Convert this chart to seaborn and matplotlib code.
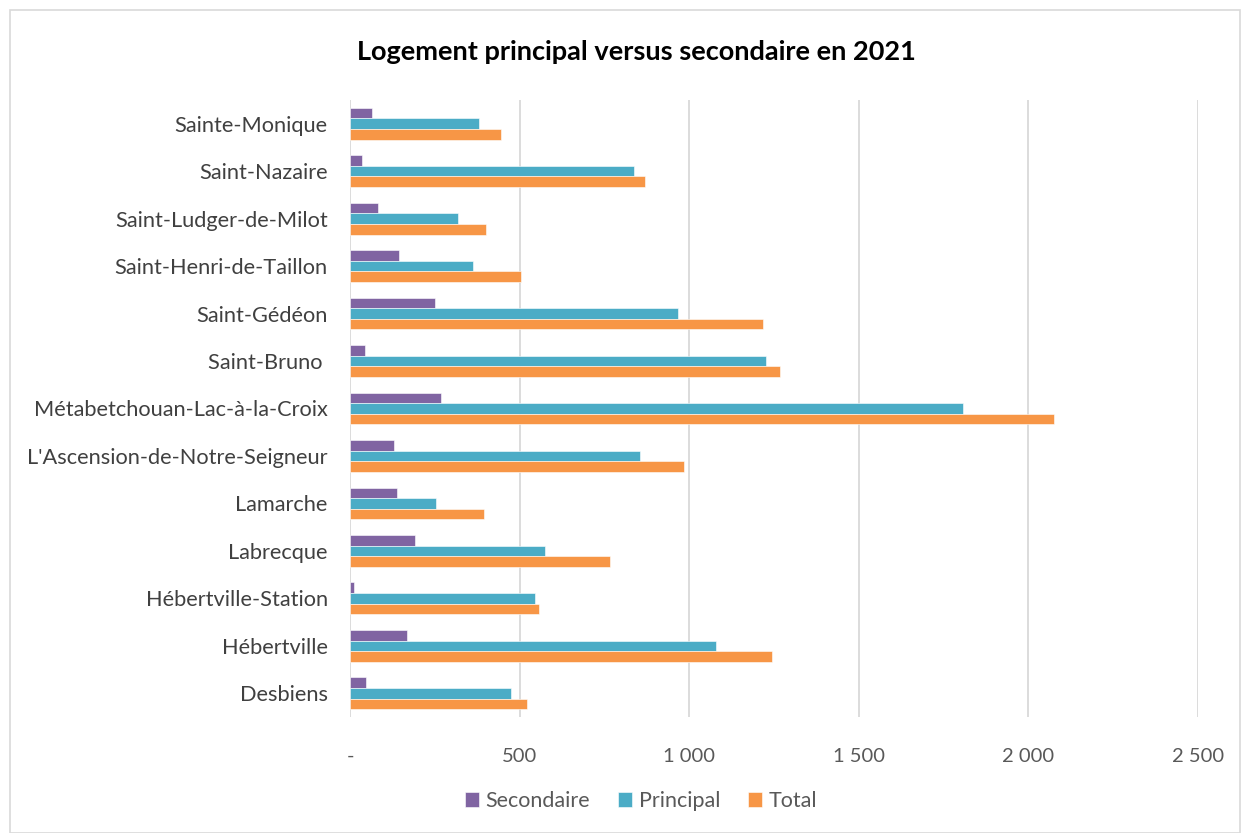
import matplotlib
matplotlib.use("Agg")
import matplotlib.pyplot as plt
import matplotlib.ticker as mticker
from matplotlib.patches import Rectangle
import seaborn as sns
import pandas as pd

categories = ["Sainte-Monique", "Saint-Nazaire", "Saint-Ludger-de-Milot",
              "Saint-Henri-de-Taillon", "Saint-Gédéon", "Saint-Bruno ",
              "Métabetchouan-Lac-à-la-Croix", "L'Ascension-de-Notre-Seigneur",
              "Lamarche", "Labrecque", "Hébertville-Station", "Hébertville",
              "Desbiens"]
secondaire = [65, 36, 83, 143, 250, 43, 267, 129, 140, 191, 11, 167, 46]
principal = [380, 836, 318, 362, 966, 1225, 1806, 855, 254, 575, 546, 1078, 475]
total = [444, 869, 402, 505, 1218, 1268, 2074, 984, 395, 766, 558, 1245, 523]
series = ["Secondaire", "Principal", "Total"]
colors = ["#8064A2", "#4BACC6", "#F79646"]
x_ticks = [0, 500, 1000, 1500, 2000, 2500]
title = "Logement principal versus secondaire en 2021"

rows = []
for name, vals in zip(series, [secondaire, principal, total]):
    for c, v in zip(categories, vals):
        rows.append({"Commune": c, "Série": name, "Valeur": v})
df = pd.DataFrame(rows)

sns.set_style("white")
plt.rcParams["font.family"] = ["Lato", "DejaVu Sans"]

fig = plt.figure(figsize=(12.47, 8.33), dpi=100)
ax = fig.add_axes([350 / 1247, 1 - 717 / 833, (1198 - 350) / 1247, (717 - 100) / 833])

sns.barplot(data=df, y="Commune", x="Valeur", hue="Série", order=categories,
            hue_order=series, palette=colors, orient="h", width=0.67,
            ax=ax, saturation=1, legend=True, edgecolor="#FFFFFF", linewidth=0.4)

ax.set_xlim(0, 2500)
ax.set_xticks(x_ticks)
ax.xaxis.set_major_formatter(mticker.FuncFormatter(
    lambda v, p: "-" if v == 0 else f"{int(v):,}".replace(",", " ")))
ax.grid(axis="x", color="#D9D9D9", linewidth=1.3)
ax.set_axisbelow(True)
for s in ax.spines.values():
    s.set_visible(False)
ax.tick_params(axis="x", length=0, pad=22, labelsize=14.5, colors="#595959")
ax.tick_params(axis="y", length=0, pad=16, labelsize=15.7, colors="#404040")
ax.set_xlabel("")
ax.set_ylabel("")

h, l = ax.get_legend_handles_labels()
ax.legend_.remove()
fig.legend(h, l, loc="center", bbox_to_anchor=(641 / 1247, 1 - 801 / 833), ncol=3,
           frameon=False, fontsize=15.5, handlelength=0.65, handleheight=0.65,
           handletextpad=0.3, columnspacing=1.3, labelcolor="#595959")

fig.text(636 / 1247, 1 - 52 / 833, title, ha="center", va="center",
         fontsize=19.5, fontweight="bold", color="#000000")

fig.patches.append(Rectangle((10 / 1247, 0), (1240 - 10) / 1247, (833 - 10) / 833,
                             transform=fig.transFigure, fill=False,
                             edgecolor="#D9D9D9", linewidth=1.2))

fig.savefig("out.png", dpi=100)
